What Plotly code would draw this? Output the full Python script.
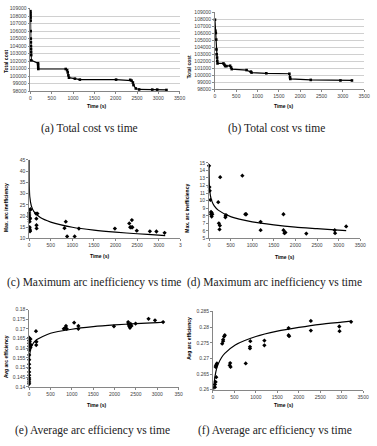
import plotly.graph_objects as go

# ---------------- data ----------------
# (a) Total cost vs time
a_time = [0, 2, 3, 4, 5, 6, 8, 10, 12, 14, 16, 18, 20, 178, 180, 182, 184, 828, 860, 875, 890, 904,
          1043, 1159, 2009, 2341, 2372, 2403, 2418, 2472, 2550, 2858, 2974, 3191]
a_cost = [108660, 108400, 108100, 107800, 107400, 106000, 105000, 104500, 104000, 103600, 103200, 102800,
          102100, 101720, 101500, 101200, 100950, 100950, 100800, 100500, 100100, 99790,
          99660, 99530, 99530, 99500, 99400, 99150, 98800, 98350, 98220, 98200, 98200, 98150]

# (b) Total cost vs time
b_time = [0, 10, 20, 30, 35, 40, 50, 55, 60, 200, 224, 240, 270, 355, 378, 394, 742, 842, 858,
          1205, 1746, 1760, 1768, 2248, 2944, 3214]
b_cost = [107950, 106370, 106040, 105100, 103690, 102990, 102520, 102050, 101680, 101680, 101490, 101300,
          101300, 101350, 101110, 100870, 100730, 100510, 100370, 100270, 100200, 99700, 99460, 99320,
          99240, 99240]

# (c) Maximum arc inefficiency vs time
c_time = [0, 3, 5, 8, 10, 12, 15, 18, 20, 22, 25, 30, 159, 167, 170, 172, 190, 818, 848, 879, 1053, 1152,
          1985, 2318, 2340, 2360, 2379, 2390, 2492, 2795, 2947, 3136]
c_val = [21.4, 20.4, 19.4, 18.5, 17.5, 15.0, 14.1, 13.5, 13.2, 19.0, 22.9, 22.9, 21.1, 18.8, 15.9, 14.5,
         21.1, 14.6, 17.5, 10.9, 10.9, 14.4, 14.4, 16.7, 15.0, 15.0, 18.2, 15.0, 13.5, 13.2, 13.1, 12.5]
c_fit_time = [0.1, 1, 5, 15, 50, 106, 258, 500, 1000, 1500, 2000, 2500, 3000, 3150]
c_fit_val = [45, 37, 32, 28.4, 24.5, 22.1, 19.3, 17.3, 15.0, 13.7, 12.8, 12.1, 11.5, 11.3]

# (d) Maximum arc inefficiency vs time
d_time = [0, 8, 15, 30, 45, 60, 45, 75, 60, 212, 227, 250, 242, 257, 385, 378, 392, 771, 839, 860,
          1194, 1194, 1723, 1723, 1745, 1768, 2252, 2910, 2918, 3175]
d_val = [14.6, 11.8, 11.3, 10.1, 8.5, 8.4, 8.2, 8.2, 7.9, 9.8, 7.0, 6.7, 6.2, 13.1, 8.0, 7.8, 8.1, 13.3,
         8.2, 8.2, 7.2, 6.1, 8.2, 6.1, 5.7, 5.8, 5.65, 6.1, 5.7, 6.6]
d_fit_time = [0.5, 2, 10, 30, 60, 120, 212, 514, 1000, 1500, 2000, 2500, 3000, 3175]
d_fit_val = [14.8, 13.4, 11.8, 10.7, 10.0, 9.3, 8.75, 7.85, 7.2, 6.8, 6.5, 6.3, 6.1, 6.05]

# (e) Average arc efficiency vs time
e_time = [0, 0, 0, 0, 0, 0, 0, 0, 0, 0, 0, 0, 0, 0, 0, 30, 45, 15, 30, 159, 165, 170, 810, 848, 862,
          879, 1053, 1152, 1152, 1985, 2318, 2325, 2340, 2360, 2379, 2395, 2492, 2795, 2947, 3136]
e_val = [0.1415, 0.1425, 0.1436, 0.1446, 0.1460, 0.1477, 0.1497, 0.1517, 0.1540, 0.1565, 0.1590, 0.1610,
         0.1625, 0.1640, 0.1654, 0.1603, 0.1616, 0.1633, 0.1647, 0.1688, 0.1616, 0.1633, 0.1700, 0.1705,
         0.1715, 0.1700, 0.1732, 0.1715, 0.1700, 0.1713, 0.1735, 0.1725, 0.1715, 0.1705, 0.1725, 0.1715,
         0.1727, 0.1752, 0.1744, 0.1735]
e_fit_time = [0.1, 0.5, 2, 8, 25, 68, 159, 500, 1000, 1500, 2000, 2500, 3000, 3140]
e_fit_val = [0.1413, 0.1463, 0.1505, 0.1548, 0.1584, 0.1615, 0.1641, 0.1677, 0.1698, 0.1711, 0.1720,
             0.1727, 0.1732, 0.1734]

# (f) Average arc efficiency vs time
f_time = [46, 46, 61, 76, 61, 68, 92, 214, 236, 236, 259, 275, 389, 400, 410, 763, 862, 862, 870,
          1198, 1198, 1762, 1762, 1775, 2281, 2281, 2944, 2950, 3219]
f_val = [0.2608, 0.2617, 0.2625, 0.2640, 0.2673, 0.2678, 0.2684, 0.2747, 0.2755, 0.2760, 0.2770, 0.2774,
         0.2678, 0.2685, 0.2673, 0.2684, 0.2737, 0.2732, 0.2755, 0.2757, 0.2742, 0.2797, 0.2774, 0.2771,
         0.2820, 0.2789, 0.2802, 0.2787, 0.2817]
f_fit_time = [17, 30, 50, 80, 122, 200, 275, 519, 1000, 1500, 2000, 2500, 3000, 3220]
f_fit_val = [0.2600, 0.2624, 0.2645, 0.2665, 0.2682, 0.2703, 0.2716, 0.2743, 0.2770, 0.2787, 0.2799,
             0.2809, 0.2816, 0.2819]

# tick labels
x_ticks = [0, 500, 1000, 1500, 2000, 2500, 3000, 3500]
x_labels = ["0", "500", "1000", "1500", "2000", "2500", "3000", "3500"]
x_labels_c = ["0", "500", "1000", "1500", "2000", "2500", "3000", "3"]
x_labels_e = ["0", "500", "1000", "1500", "2000", "2500", "3000", "350"]
cost_ticks = [98000, 99000, 100000, 101000, 102000, 103000, 104000, 105000, 106000, 107000, 108000, 109000]
cost_labels = [str(v) for v in cost_ticks]
c_ticks = [10, 15, 20, 25, 30, 35, 40, 45]
d_ticks = [5, 6, 7, 8, 9, 10, 11, 12, 13, 14, 15]
e_ticks = [0.14, 0.145, 0.15, 0.155, 0.16, 0.165, 0.17, 0.175, 0.18]
e_labels = ["0.14", "0.145", "0.15", "0.155", "0.16", "0.165", "0.17", "0.175", "0.18"]
f_ticks = [0.26, 0.265, 0.27, 0.275, 0.28, 0.285]
f_labels = ["0.26", "0.265", "0.27", "0.275", "0.28", "0.285"]

captions = ["(a) Total cost vs time", "(b) Total cost vs time",
            "(c) Maximum arc inefficiency vs time", "(d) Maximum arc inefficiency vs time",
            "(e) Average arc efficiency vs time", "(f) Average arc efficiency vs time"]
y_titles = ["Total cost", "Total cost", "Max. arc inefficiency", "Max. arc inefficiency",
            "Avg arc efficiency", "Avg arc efficiency"]

# ---------------- layout helpers ----------------
W, H = 377, 446


def xd(l, r):
    return [l / W, r / W]


def yd(t, b):
    return [1 - b / H, 1 - t / H]


fig = go.Figure()

TICKFONT = dict(family="Liberation Sans, Arial, sans-serif", size=5, color="#404040")
TITLEFONT = dict(family="Liberation Sans, Arial, sans-serif", size=5, color="#000000")
CAPFONT = dict(family="Liberation Serif, Times New Roman, serif", size=11.5, color="#222222")

panels = [
    dict(x=(30, 182), y=(5.7, 89.3), yr=[98000, 109000], yt=cost_ticks, yl=cost_labels, xl=x_labels,
         grid=True, yt_pos=(5, 59), xt_pos=(97, 104), cap=(90, 127)),
    dict(x=(218, 370), y=(9.5, 87.3), yr=[98000, 109000], yt=cost_ticks, yl=cost_labels, xl=x_labels,
         grid=True, yt_pos=(192, 64), xt_pos=(288, 104), cap=(281, 127)),
    dict(x=(28.7, 182.7), y=(159, 238.7), yr=[10, 45], yt=c_ticks, yl=[str(v) for v in c_ticks],
         xl=x_labels_c, grid=False, yt_pos=(5, 207), xt_pos=(100, 256), cap=(95, 283)),
    dict(x=(212, 366), y=(162, 238.7), yr=[5, 15], yt=d_ticks, yl=[str(v) for v in d_ticks],
         xl=x_labels, grid=False, yt_pos=(190, 208), xt_pos=(289, 257), cap=(279, 283)),
    dict(x=(28.7, 181), y=(310.7, 389), yr=[0.14, 0.18], yt=e_ticks, yl=e_labels, xl=x_labels_e,
         grid=False, yt_pos=(5, 358), xt_pos=(97, 407), cap=(93, 433)),
    dict(x=(216, 369), y=(312.7, 392), yr=[0.26, 0.285], yt=f_ticks, yl=f_labels, xl=x_labels,
         grid=False, yt_pos=(192, 340), xt_pos=(288, 407), cap=(279, 433)),
]

series = [
    (a_time, a_cost, None, None),
    (b_time, b_cost, None, None),
    (c_time, c_val, c_fit_time, c_fit_val),
    (d_time, d_val, d_fit_time, d_fit_val),
    (e_time, e_val, e_fit_time, e_fit_val),
    (f_time, f_val, f_fit_time, f_fit_val),
]

annotations = []
for i, (p, s) in enumerate(zip(panels, series)):
    n = "" if i == 0 else str(i + 1)
    xa, ya = "x" + n, "y" + n
    t, v, ft, fv = s
    if ft is None:
        fig.add_trace(go.Scatter(x=t, y=v, mode="lines+markers", xaxis=xa, yaxis=ya,
                                 line=dict(color="#000000", width=1.2),
                                 marker=dict(symbol="square", size=2.6, color="#000000"),
                                 cliponaxis=False, showlegend=False))
    else:
        fig.add_trace(go.Scatter(x=ft, y=fv, mode="lines", xaxis=xa, yaxis=ya,
                                 line=dict(color="#000000", width=1.2, shape="spline", smoothing=0.6),
                                 showlegend=False))
        fig.add_trace(go.Scatter(x=t, y=v, mode="markers", xaxis=xa, yaxis=ya,
                                 marker=dict(symbol="diamond", size=3.3, color="#000000"),
                                 cliponaxis=False, showlegend=False))

    fig.layout["xaxis" + n] = dict(
        domain=xd(*p["x"]), range=[0, 3500], anchor=ya, tickmode="array", tickvals=x_ticks,
        ticktext=p["xl"], tickfont=TICKFONT, showgrid=False, zeroline=False, showline=True,
        linecolor="#868686", linewidth=0.8, ticks="outside", ticklen=2, tickcolor="#868686",
        tickwidth=0.6, fixedrange=True)
    fig.layout["yaxis" + n] = dict(
        domain=yd(*p["y"]), range=p["yr"], anchor=xa, tickmode="array", tickvals=p["yt"],
        ticktext=p["yl"], tickfont=TICKFONT, showgrid=p["grid"], gridcolor="#d0d0d0",
        gridwidth=0.7, zeroline=False, showline=True, linecolor="#868686", linewidth=0.8,
        ticks="outside", ticklen=2, tickcolor="#868686", tickwidth=0.6, fixedrange=True)

    yx, yy = p["yt_pos"]
    annotations.append(dict(text="<b>%s</b>" % y_titles[i], x=yx / W, y=1 - yy / H, xref="paper",
                            yref="paper", showarrow=False, textangle=-90, font=TITLEFONT,
                            xanchor="center", yanchor="middle"))
    tx, ty = p["xt_pos"]
    annotations.append(dict(text="<b>Time (s)</b>", x=tx / W, y=1 - ty / H, xref="paper",
                            yref="paper", showarrow=False, font=TITLEFONT,
                            xanchor="center", yanchor="middle"))
    cx, cy = p["cap"]
    annotations.append(dict(text=captions[i], x=cx / W, y=1 - cy / H, xref="paper", yref="paper",
                            showarrow=False, font=CAPFONT, xanchor="center", yanchor="middle"))

fig.update_layout(width=W, height=H, margin=dict(l=0, r=0, t=0, b=0), paper_bgcolor="white",
                  plot_bgcolor="white", annotations=annotations, showlegend=False)

fig.write_html("out.html", config={"displayModeBar": False})
